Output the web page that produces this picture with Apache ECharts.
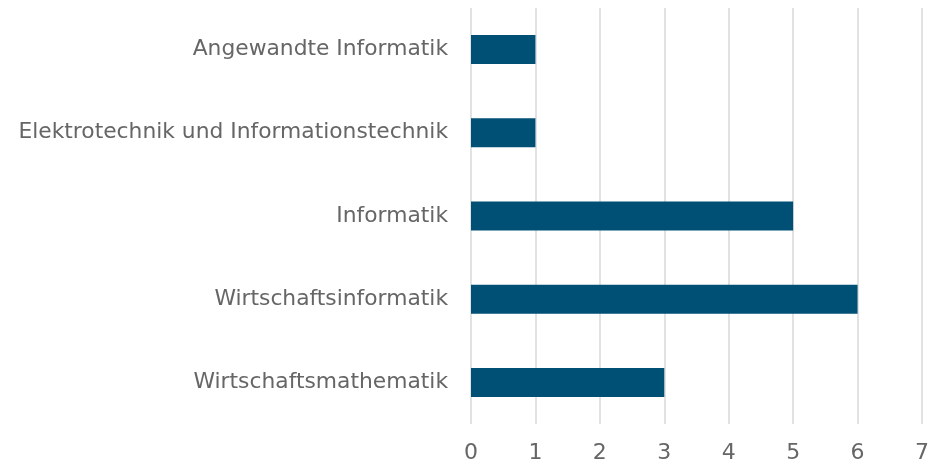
<!DOCTYPE html>
<html>
<head>
<meta charset="utf-8">
<script src="https://cdn.jsdelivr.net/npm/echarts@6/dist/echarts.min.js"></script>
<style>
  html, body { margin: 0; padding: 0; background: #fff; }
  #chart { width: 928px; height: 469px; }
</style>
</head>
<body>
<div id="chart"></div>
<script>
const categories = [
  "Angewandte Informatik",
  "Elektrotechnik und Informationstechnik",
  "Informatik",
  "Wirtschaftsinformatik",
  "Wirtschaftsmathematik"
];
const counts = [1, 1, 5, 6, 3];
const xTicks = [0, 1, 2, 3, 4, 5, 6, 7];

const chart = echarts.init(document.getElementById("chart"));
chart.setOption({
  animation: false,
  grid: {
    left: 471, right: 6, top: 8, bottom: 45,
    containLabel: false,
    outerBoundsMode: "none"
  },
  xAxis: {
    type: "value",
    min: xTicks[0],
    max: xTicks[xTicks.length - 1],
    interval: 1,
    axisLine: { show: false },
    axisTick: { show: false },
    axisLabel: {
      color: "#666666",
      fontFamily: "DejaVu Sans",
      fontSize: 22,
      margin: 18
    },
    splitLine: { lineStyle: { color: "#d9d9d9", width: 1.5 } }
  },
  yAxis: {
    type: "category",
    data: categories,
    inverse: true,
    axisLine: { show: false },
    axisTick: { show: false },
    axisLabel: {
      color: "#666666",
      fontFamily: "DejaVu Sans",
      fontSize: 21.8,
      margin: 23
    }
  },
  series: [{
    type: "bar",
    data: counts,
    barWidth: 29,
    itemStyle: { color: "#005075" }
  }]
});
</script>
</body>
</html>
